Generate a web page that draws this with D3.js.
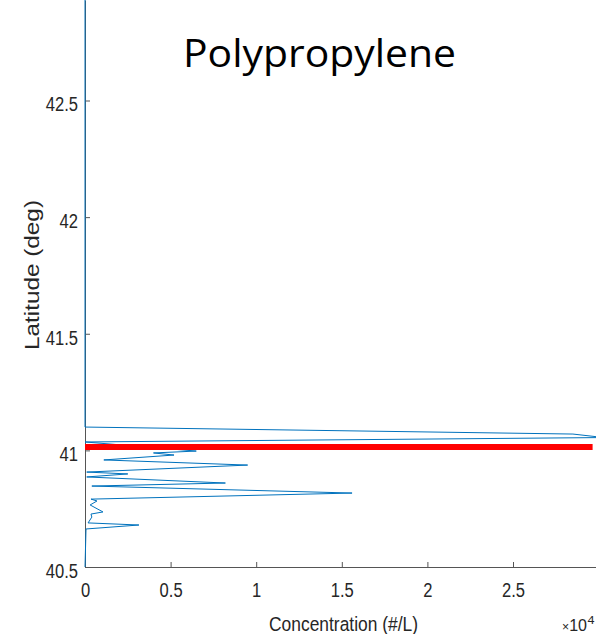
<!DOCTYPE html>
<html>
  <head>
    <meta charset="utf-8">
    <title>Polypropylene</title>
    <script src="https://d3js.org/d3.v7.min.js"></script>
    <style>
      body { margin: 0; background: #fff; }
      svg { display: block; }
      .axis text { font-family: "Liberation Sans", Arial, sans-serif; font-size: 19.5px; fill: #262626; }
      .axis path, .axis line { stroke: #555; stroke-width: 1; }
    </style>
  </head>
  <body>
    <svg width="596" height="634"></svg>

    <script>
      // latitude (deg) and concentration (x10^4 #/L)
      const latitudes = [42.95, 41.100, 41.070, 41.055, 41.036, 40.997, 40.989, 40.980, 40.959,
        40.937, 40.907, 40.899, 40.886, 40.860, 40.847, 40.817, 40.791, 40.783, 40.766,
        40.736, 40.727, 40.714, 40.689, 40.680, 40.663, 40.50];
      const concentrations = [0, 0, 2.85, 3.03, 0, 0.65, 0.40, 0.52, 0.11,
        0.95, 0.01, 0.25, 0.01, 0.82, 0.04, 1.56, 0.035, 0.07, 0.03,
        0.105, 0.035, 0.04, 0.018, 0.315, 0.006, 0];

      // red reference line
      const refLat = 41.014;
      const refConc = [0, 2.965];

      const xTicks = [0, 0.5, 1, 1.5, 2, 2.5];
      const xTickLabels = ["0", "0.5", "1", "1.5", "2", "2.5"];
      const yTicks = [40.5, 41, 41.5, 42, 42.5];
      const yTickLabels = ["40.5", "41", "41.5", "42", "42.5"];

      const svg = d3.select("svg");

      const x = d3.scaleLinear().domain([0, 3]).range([85, 598.6]);
      const y = d3.scaleLinear().domain([40.5, 42.5]).range([567, 100.5]);
      const yTop = y.invert(0);

      const data = latitudes.map(function(lat, i) { return { lat: lat, c: concentrations[i] }; });

      // axes (ticks point inward, like matlab)
      const yAxis = svg.append("g")
        .attr("class", "axis")
        .attr("transform", "translate(85,0)")
        .call(d3.axisLeft(d3.scaleLinear().domain([40.5, yTop]).range([567, 0]))
          .tickValues(yTicks)
          .tickFormat(function(d, i) { return yTickLabels[i]; })
          .tickSizeInner(-5).tickSizeOuter(0).tickPadding(7));
      yAxis.selectAll("text").attr("dy", "0.53em");

      const xAxis = svg.append("g")
        .attr("class", "axis")
        .attr("transform", "translate(0,567)")
        .call(d3.axisBottom(x)
          .tickValues(xTicks)
          .tickFormat(function(d, i) { return xTickLabels[i]; })
          .tickSizeInner(-5).tickSizeOuter(0).tickPadding(16));

      // squeeze the labels a bit, matlab's helvetica is narrower
      svg.selectAll(".axis text").each(function() {
        const len = this.getComputedTextLength();
        d3.select(this).attr("textLength", len * 0.85).attr("lengthAdjust", "spacingAndGlyphs");
      });

      // data line
      const line = d3.line()
        .x(function(d) { return x(d.c); })
        .y(function(d) { return y(d.lat); });

      svg.append("path")
        .datum(data)
        .attr("fill", "none")
        .attr("stroke", "#0072BD")
        .attr("stroke-width", 1)
        .attr("d", line);

      svg.append("line")
        .attr("x1", x(refConc[0]))
        .attr("x2", x(refConc[1]))
        .attr("y1", y(refLat))
        .attr("y2", y(refLat))
        .attr("stroke", "#ff0000")
        .attr("stroke-width", 6);

      // labels
      svg.append("text")
        .attr("x", 343.5)
        .attr("y", 631)
        .attr("text-anchor", "middle")
        .attr("textLength", 149)
        .attr("lengthAdjust", "spacingAndGlyphs")
        .style("font-family", "Liberation Sans, Arial, sans-serif")
        .style("font-size", "20.5px")
        .style("fill", "#262626")
        .text("Concentration (#/L)");

      svg.append("text")
        .attr("transform", "translate(38.5,275) rotate(-90)")
        .attr("text-anchor", "middle")
        .attr("textLength", 150)
        .attr("lengthAdjust", "spacingAndGlyphs")
        .style("font-family", "Liberation Sans, Arial, sans-serif")
        .style("font-size", "19.5px")
        .style("fill", "#262626")
        .text("Latitude (deg)");

      // x10^4 multiplier, tucked into the bottom right corner
      const expo = svg.append("text")
        .attr("x", 587)
        .attr("y", 631)
        .attr("text-anchor", "end")
        .attr("textLength", 25)
        .attr("lengthAdjust", "spacingAndGlyphs")
        .style("font-family", "Liberation Sans, Arial, sans-serif")
        .style("font-size", "17px")
        .style("fill", "#262626");
      expo.append("tspan").style("font-size", "13px").text("\u00d7");
      expo.append("tspan").text("10");
      svg.append("text")
        .attr("x", 587.5)
        .attr("y", 624)
        .attr("textLength", 7)
        .attr("lengthAdjust", "spacingAndGlyphs")
        .style("font-family", "Liberation Sans, Arial, sans-serif")
        .style("font-size", "11px")
        .style("fill", "#262626")
        .text("4");

      svg.append("text")
        .attr("x", 319.5)
        .attr("y", 67)
        .attr("text-anchor", "middle")
        .attr("textLength", 273)
        .attr("lengthAdjust", "spacingAndGlyphs")
        .style("font-family", "Open Sans, sans-serif")
        .style("font-size", "38px")
        .style("fill", "#000")
        .text("Polypropylene");
    </script>
  </body>
</html>
